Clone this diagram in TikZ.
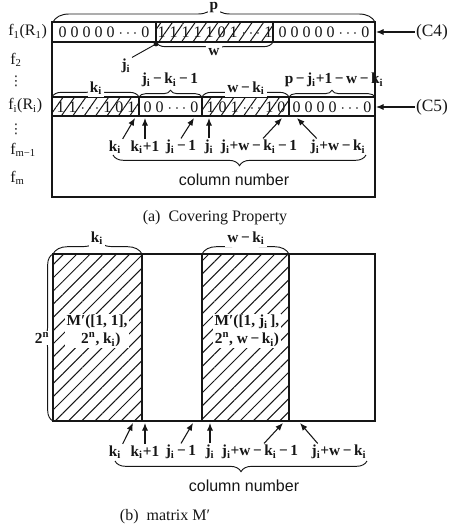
\documentclass[tikz,border=0pt]{standalone}
\usepackage{fontspec}
\setmainfont{Liberation Serif}
\newfontfamily\colfont{Liberation Sans}
\newfontfamily\dotsfont{DejaVu Sans}
\usetikzlibrary{arrows.meta, positioning, calc, patterns.meta, decorations.pathreplacing}
\definecolor{ink}{HTML}{161616}
\newcommand{\subi}{\textsubscript{i}}
\newcommand{\supn}{\textsuperscript{n}}
\newcommand{\mns}{\,−\,}
\newcommand{\dd}{$\cdots$}
\tikzset{
  rim/.style    ={draw=ink, line width=0.9pt},
  hatch/.style  ={pattern={Lines[angle=#1, distance=7pt, line width=0.75pt]}, pattern color=ink},
  hatch/.default=45,
  bits/.style   ={font=\fontsize{12}{14}\selectfont, text=ink, inner sep=0pt},
  idx/.style    ={font=\fontsize{11.5}{13.5}\selectfont\bfseries, text=ink, inner sep=1pt},
  rowlbl/.style ={font=\fontsize{12}{14}\selectfont, text=ink, anchor=west, inner sep=0pt},
  rowdots/.style={font=\dotsfont\fontsize{10}{11}\selectfont, text=ink, inner sep=0pt},
  onbrace/.style={idx, fill=white, inner sep=1.5pt},
  curly/.style  ={draw=ink, line width=0.7pt, decorate, decoration={brace, amplitude=#1, aspect=0.5}},
  curly/.default=6pt,
  flow/.style   ={-{Latex[length=2mm,width=1.6mm]}, line width=0.8pt, draw=ink},
  colnum/.style ={font=\colfont\fontsize{12}{14}\selectfont, text=ink},
  capt/.style   ={font=\fontsize{12}{14}\selectfont, text=ink},
  tag/.style    ={font=\fontsize{13}{15}\selectfont, text=ink, inner sep=1pt},
  mlabel/.style ={idx, fill=white, align=center, inner sep=1pt}
}
\begin{document}
\begin{tikzpicture}[x=0.75pt, y=-0.75pt]
  \useasboundingbox (0,0) rectangle (452,529);

  \fill[hatch=55] (156,22) rectangle (273,42);
  \fill[hatch=55] (52,97) rectangle (139,116);
  \fill[hatch=55] (202,97) rectangle (289,116);
  \draw[rim] (52,22) rectangle (375,197);
  \draw[rim] (52,42) -- (375,42);
  \draw[rim] (52,97) rectangle (375,116);
  \draw[rim] (156,22) -- (156,42) (273,22) -- (273,42);
  \draw[rim] (139,97) -- (139,116) (202,97) -- (202,116) (289,97) -- (289,116);

  \node[bits] (r1a) at (104,32) {0 0 0 0 0 \dd\ 0};
  \node[bits] (r1b) at (215,32) {1 1 1 1 1 0 1 \dd\ 1};
  \node[bits] (r1c) at (324,32) {0 0 0 0 0 \dd\ 0};
  \node[bits] (ria) at (96,107) {1 1 \dd\ 1 0 1};
  \node[bits] (rib) at (171,107) {0 0 \dd\ 0};
  \node[bits] (ric) at (246,107) {1 0 1 \dd\ 1 0};
  \node[bits] (rid) at (332,107) {0 0 0 0 \dd\ 0};

  \node[rowlbl]  (f1)  at (8,32)   {f\textsubscript{1}(R\textsubscript{1})};
  \node[rowlbl]  (f2)  at (10,60)  {f\textsubscript{2}};
  \node[rowdots] (v1)  at (16,81)  {⋮};
  \node[rowlbl]  (fi)  at (8,106)  {f\subi(R\subi)};
  \node[rowdots] (v2)  at (16,129) {⋮};
  \node[rowlbl]  (fm1) at (10,150) {f\textsubscript{m−1}};
  \node[rowlbl]  (fm)  at (10,178) {f\textsubscript{m}};

  \draw[curly=12pt] (53,22) -- (375,22);
  \node[onbrace] (p) at (214,8) {p};

  \coordinate (jdot) at (156,44);
  \fill[ink] (jdot) circle (1.8pt);
  \node[idx] (ji) at (126,66) {j\subi};
  \draw[ink, line width=0.7pt] (ji.north east) -- (jdot);
  \draw[curly=7pt] (273,42) -- (156,42);
  \node[onbrace] (w) at (214,52) {w};

  \draw[curly=7pt] (52,97) -- (139,97);
  \node[onbrace] (kb) at (96,88) {k\subi};
  \draw[curly=5pt] (139,97) -- (202,97);
  \node[idx] (jkb) at (170,80) {j\subi\mns k\subi\mns 1};
  \draw[curly=7pt] (202,97) -- (289,97);
  \node[onbrace] (wkb) at (246,88) {w\mns k\subi};
  \draw[curly=5pt] (289,97) -- (375,97);
  \node[idx] (pjb) at (334,80) {p\mns j\subi+1\mns w\mns k\subi};

  \node[tag] (c4) at (432,32) {(C4)};
  \coordinate (c4tip) at (376,32);
  \draw[flow] (c4) -- (c4tip);
  \node[tag] (c5) at (432,107) {(C5)};
  \coordinate (c5tip) at (376,107);
  \draw[flow] (c5) -- (c5tip);

  \node[idx] (ka)   at (115,147) {k\subi};
  \node[idx] (kpa)  at (145,147) {k\subi+1};
  \node[idx] (jma)  at (181,147) {j\subi\mns 1};
  \node[idx] (ja)   at (209,147) {j\subi};
  \node[idx] (jwma) at (259,147) {j\subi+w\mns k\subi\mns 1};
  \node[idx] (jwa)  at (338,147) {j\subi+w\mns k\subi};
  \coordinate (ka tip)   at (135,118);
  \coordinate (kpa tip)  at (145,118);
  \coordinate (jma tip)  at (194,118);
  \coordinate (ja tip)   at (209,118);
  \coordinate (jwma tip) at (282,118);
  \coordinate (jwa tip)  at (297,118);
  \draw[flow] (ka.north east) -- (ka tip);
  \draw[flow] (kpa.north) -- (kpa tip);
  \draw[flow] (jma.north) -- (jma tip);
  \draw[flow] (ja.north) -- (ja tip);
  \draw[flow] ([xshift=3pt]jwma.north) -- (jwma tip);
  \draw[flow] ([xshift=-16pt]jwa.north) -- (jwa tip);
  \draw[curly=8pt] (366,155) -- (113,155);
  \node[colnum] (cna) at (234,180) {column number};
  \node[capt] (capa) at (215,218) {(a)\ \ Covering Property};

  \fill[hatch] (53,254) rectangle (142,421);
  \fill[hatch] (202,254) rectangle (289,421);
  \draw[rim] (53,254) rectangle (375,421);
  \draw[rim] (142,254) -- (142,421) (202,254) -- (202,421) (289,254) -- (289,421);
  \node[mlabel] (m1) at (97,331) {M′([1, 1],\\ \ \ 2\supn, k\subi)};
  \node[mlabel] (m2) at (247,331) {M′([1, j\subi\,],\\ 2\supn, w\mns k\subi)};

  \draw[curly=11pt] (53,254) -- (142,254);
  \node[onbrace] (kbb) at (97,238) {k\subi};
  \draw[curly=11pt] (202,254) -- (289,254);
  \node[onbrace] (wkbb) at (246,238) {w\mns k\subi};
  \draw[curly=8pt] (53,421) -- (53,254);
  \node[onbrace] (two) at (42,338) {2\supn};

  \node[idx] (kb2)   at (115,452) {k\subi};
  \node[idx] (kpb2)  at (145,452) {k\subi+1};
  \node[idx] (jmb2)  at (181,452) {j\subi\mns 1};
  \node[idx] (jb2)   at (210,452) {j\subi};
  \node[idx] (jwmb2) at (260,452) {j\subi+w\mns k\subi\mns 1};
  \node[idx] (jwb2)  at (339,452) {j\subi+w\mns k\subi};
  \coordinate (kb2 tip)   at (133,423);
  \coordinate (kpb2 tip)  at (145,423);
  \coordinate (jmb2 tip)  at (193,423);
  \coordinate (jb2 tip)   at (210,423);
  \coordinate (jwmb2 tip) at (283,423);
  \coordinate (jwb2 tip)  at (300,423);
  \draw[flow] (kb2.north east) -- (kb2 tip);
  \draw[flow] (kpb2.north) -- (kpb2 tip);
  \draw[flow] (jmb2.north) -- (jmb2 tip);
  \draw[flow] (jb2.north) -- (jb2 tip);
  \draw[flow] ([xshift=3pt]jwmb2.north) -- (jwmb2 tip);
  \draw[flow] ([xshift=-16pt]jwb2.north) -- (jwb2 tip);
  \draw[curly=8pt] (367,461) -- (115,461);
  \node[colnum] (cnb) at (244,486) {column number};
  \node[capt] (capb) at (165,517) {(b)\ \ matrix M′};
\end{tikzpicture}
\end{document}
